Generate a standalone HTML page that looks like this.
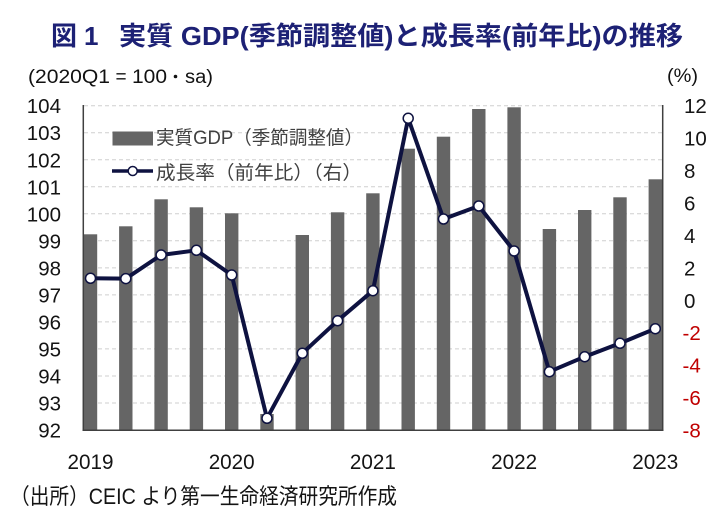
<!DOCTYPE html>
<html><head><meta charset="utf-8"><style>
html,body{margin:0;padding:0;background:#fff;}
svg{display:block;}
text{font-family:"Liberation Sans","Noto Sans CJK JP",sans-serif;}
</style></head><body>
<svg width="727" height="525" viewBox="0 0 727 525" xmlns="http://www.w3.org/2000/svg">
<rect width="727" height="525" fill="#fff"/>
<!-- Title -->
<g fill="#1d2175" font-weight="700" font-size="26">
<text x="51" y="45">図</text>
<text x="84" y="45">1</text>
<text x="119" y="45" textLength="564" lengthAdjust="spacingAndGlyphs">実質 GDP(季節調整値)と成長率(前年比)の推移</text>
</g>
<!-- subtitles -->
<g fill="#111" font-size="19">
<text x="28" y="83" textLength="82" lengthAdjust="spacingAndGlyphs">(2020Q1</text>
<text x="121" y="83" text-anchor="middle">=</text>
<text x="132" y="83" textLength="35" lengthAdjust="spacingAndGlyphs">100</text>
<circle cx="175.5" cy="76.5" r="1.8" fill="#111"/>
<text x="185" y="83" textLength="28" lengthAdjust="spacingAndGlyphs">sa)</text>
<text x="667" y="82" textLength="31" lengthAdjust="spacingAndGlyphs">(%)</text>
</g>
<!-- gridlines -->
<g stroke="#cfcfcf" stroke-width="1" stroke-dasharray="4,3">
<line x1="84" x2="662" y1="105.7" y2="105.7"/>
<line x1="84" x2="662" y1="132.7" y2="132.7"/>
<line x1="84" x2="662" y1="159.8" y2="159.8"/>
<line x1="84" x2="662" y1="186.8" y2="186.8"/>
<line x1="84" x2="662" y1="213.8" y2="213.8"/>
<line x1="84" x2="662" y1="240.8" y2="240.8"/>
<line x1="84" x2="662" y1="267.9" y2="267.9"/>
<line x1="84" x2="662" y1="294.9" y2="294.9"/>
<line x1="84" x2="662" y1="321.9" y2="321.9"/>
<line x1="84" x2="662" y1="348.9" y2="348.9"/>
<line x1="84" x2="662" y1="376.0" y2="376.0"/>
<line x1="84" x2="662" y1="403.0" y2="403.0"/>
</g>
<!-- bars -->
<g fill="#656565">
<rect x="83.8" y="234.3" width="13.4" height="195.7"/>
<rect x="119.1" y="226.3" width="13.4" height="203.7"/>
<rect x="154.4" y="199.3" width="13.4" height="230.7"/>
<rect x="189.7" y="207.3" width="13.4" height="222.7"/>
<rect x="225.0" y="213.3" width="13.4" height="216.7"/>
<rect x="260.3" y="414.0" width="13.4" height="16.0"/>
<rect x="295.6" y="235.0" width="13.4" height="195.0"/>
<rect x="330.9" y="212.3" width="13.4" height="217.7"/>
<rect x="366.2" y="193.3" width="13.4" height="236.7"/>
<rect x="401.5" y="148.7" width="13.4" height="281.3"/>
<rect x="436.8" y="136.7" width="13.4" height="293.3"/>
<rect x="472.1" y="109.0" width="13.4" height="321.0"/>
<rect x="507.4" y="107.3" width="13.4" height="322.7"/>
<rect x="542.7" y="229.0" width="13.4" height="201.0"/>
<rect x="578.0" y="210.0" width="13.4" height="220.0"/>
<rect x="613.3" y="197.3" width="13.4" height="232.7"/>
<rect x="648.6" y="179.3" width="13.4" height="250.7"/>
</g>
<!-- axes -->
<g stroke="#404040" stroke-width="1.5">
<line x1="83.3" y1="105" x2="83.3" y2="430.5"/>
<line x1="662.7" y1="105" x2="662.7" y2="430.5"/>
<line x1="82.5" y1="430.2" x2="663.5" y2="430.2"/>
</g>
<!-- line series -->
<polyline fill="none" stroke="#0e1240" stroke-width="4" stroke-linejoin="round"
points="90.5,278.3 125.8,278.6 161.1,255 196.4,250.3 231.7,275 267.0,418.3 302.3,353.3 337.6,320.7 372.9,290.7 408.2,118.3 443.5,219 478.8,206 514.1,251 549.4,371.7 584.7,356.7 620.0,343.3 655.3,328.7"/>
<g fill="#fff" stroke="#0e1240" stroke-width="1.5">
<circle cx="90.5" cy="278.3" r="5"/>
<circle cx="125.8" cy="278.6" r="5"/>
<circle cx="161.1" cy="255" r="5"/>
<circle cx="196.4" cy="250.3" r="5"/>
<circle cx="231.7" cy="275" r="5"/>
<circle cx="267.0" cy="418.3" r="5"/>
<circle cx="302.3" cy="353.3" r="5"/>
<circle cx="337.6" cy="320.7" r="5"/>
<circle cx="372.9" cy="290.7" r="5"/>
<circle cx="408.2" cy="118.3" r="5"/>
<circle cx="443.5" cy="219" r="5"/>
<circle cx="478.8" cy="206" r="5"/>
<circle cx="514.1" cy="251" r="5"/>
<circle cx="549.4" cy="371.7" r="5"/>
<circle cx="584.7" cy="356.7" r="5"/>
<circle cx="620.0" cy="343.3" r="5"/>
<circle cx="655.3" cy="328.7" r="5"/>
</g>
<!-- legend -->
<rect x="112.5" y="131.5" width="40.5" height="14" fill="#656565"/>
<text x="156" y="144" font-size="19" fill="#404040" textLength="207" lengthAdjust="spacingAndGlyphs">実質GDP（季節調整値）</text>
<line x1="112" y1="171" x2="153" y2="171" stroke="#0e1240" stroke-width="3.5"/>
<circle cx="132.7" cy="171" r="4.5" fill="#fff" stroke="#0e1240" stroke-width="1.5"/>
<text x="156" y="179" font-size="19" fill="#404040" textLength="206" lengthAdjust="spacingAndGlyphs">成長率（前年比）（右）</text>
<!-- left axis labels -->
<g font-size="20.5" fill="#141414" text-anchor="end">
<text x="61" y="113.2">104</text>
<text x="61" y="140.2">103</text>
<text x="61" y="167.3">102</text>
<text x="61" y="194.3">101</text>
<text x="61" y="221.3">100</text>
<text x="61" y="248.3">99</text>
<text x="61" y="275.4">98</text>
<text x="61" y="302.4">97</text>
<text x="61" y="329.4">96</text>
<text x="61" y="356.4">95</text>
<text x="61" y="383.5">94</text>
<text x="61" y="410.5">93</text>
<text x="61" y="437.5">92</text>
</g>
<!-- right axis labels -->
<g font-size="20.5" fill="#141414">
<text x="684" y="113.2">12</text>
<text x="684" y="145.6">10</text>
<text x="684" y="178.1">8</text>
<text x="684" y="210.5">6</text>
<text x="684" y="242.9">4</text>
<text x="684" y="275.4">2</text>
<text x="684" y="307.8">0</text>
</g>
<g font-size="20.5" fill="#c00000">
<text x="682.5" y="340.2">-2</text>
<text x="682.5" y="372.7">-4</text>
<text x="682.5" y="405.1">-6</text>
<text x="682.5" y="437.5">-8</text>
</g>
<!-- x labels -->
<g font-size="21.5" fill="#141414" text-anchor="middle">
<text x="90.5" y="469" textLength="46" lengthAdjust="spacingAndGlyphs">2019</text>
<text x="231.7" y="469" textLength="46" lengthAdjust="spacingAndGlyphs">2020</text>
<text x="372.9" y="469" textLength="46" lengthAdjust="spacingAndGlyphs">2021</text>
<text x="514.1" y="469" textLength="46" lengthAdjust="spacingAndGlyphs">2022</text>
<text x="655.3" y="469" textLength="46" lengthAdjust="spacingAndGlyphs">2023</text>
</g>
<!-- footer -->
<text x="10" y="504" font-size="22" fill="#141414" textLength="387" lengthAdjust="spacingAndGlyphs">（出所）CEIC より第一生命経済研究所作成</text>
</svg>
</body></html>
